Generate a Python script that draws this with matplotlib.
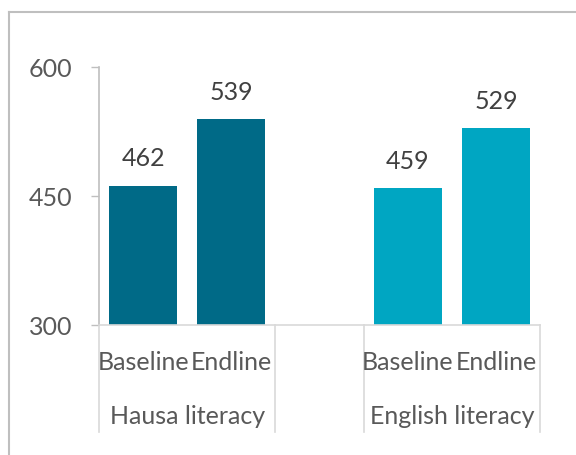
import matplotlib
matplotlib.use('Agg')
import matplotlib.pyplot as plt
from matplotlib.lines import Line2D

plt.rcParams['font.family'] = ['Lato', 'DejaVu Sans']

groups = ['Hausa literacy', 'English literacy']
rounds = ['Baseline', 'Endline']
hausa = [462, 539]
english = [459, 529]
colors = ['#006A87', '#00A6C2']

fig = plt.figure(figsize=(5.76, 4.56), dpi=100)
ax = fig.add_axes([99/576, 1-326/456, 441/576, 258/456])

pos = [[0, 1], [3, 4]]
for g, vals, c in zip(range(2), [hausa, english], colors):
    bars = ax.bar(pos[g], [v - 300 for v in vals], bottom=300, width=0.77, color=c)
    for x, v in zip(pos[g], vals):
        ax.text(x, v + 19, str(v), ha='center', va='bottom', fontsize=18, color='#404040')
    for x, r in zip(pos[g], rounds):
        ax.text(x, -0.14, r, transform=ax.get_xaxis_transform(), ha='center', va='center',
                fontsize=18, color='#595959')
    ax.text(sum(pos[g]) / 2, -0.349, groups[g], transform=ax.get_xaxis_transform(),
            ha='center', va='center', fontsize=18, color='#595959')

# category separators under the axis
for x in [-0.5, 1.5, 2.5, 4.5]:
    ax.plot([x, x], [0, -0.415], transform=ax.get_xaxis_transform(), color='#D9D9D9',
            lw=1.2, clip_on=False)

ax.set_xlim(-0.5, 4.5)
ax.set_ylim(300, 600)
ax.set_yticks([300, 450, 600])
ax.set_xticks([])
ax.tick_params(axis='y', length=6, width=1, color='#BFBFBF', labelsize=18,
               labelcolor='#595959', pad=13)
for s in ['top', 'right']:
    ax.spines[s].set_visible(False)
ax.spines['left'].set_color('#BFBFBF')
ax.spines['bottom'].set_color('#D9D9D9')
ax.spines['left'].set_linewidth(1.2)
ax.spines['bottom'].set_linewidth(1.2)

# chart border (top and left visible)
fig.add_artist(Line2D([9/576, 1], [1-13/456, 1-13/456], color='#BFBFBF', lw=1.5))
fig.add_artist(Line2D([9/576, 9/576], [0, 1-13/456], color='#BFBFBF', lw=1.5))

fig.savefig('out.png', dpi=100)
